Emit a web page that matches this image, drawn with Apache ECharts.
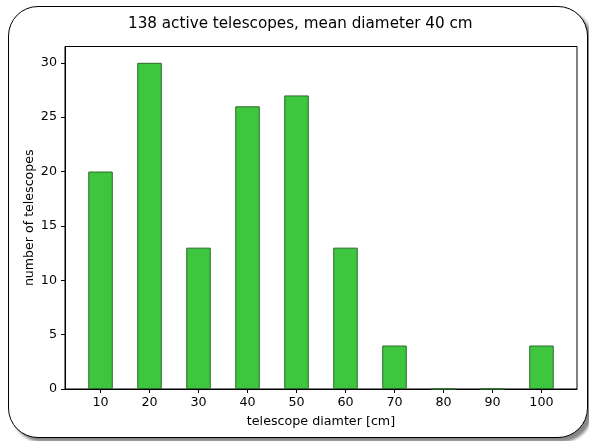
<!DOCTYPE html>
<html><head><meta charset="utf-8">
<script src="https://cdn.jsdelivr.net/npm/echarts@6/dist/echarts.min.js"></script>
<style>
html,body{margin:0;padding:0;background:#fff;}
#frame{position:absolute;left:8px;top:6px;width:578px;height:430px;border:1px solid #000;border-radius:30px;box-shadow:4px 4px 3px #888;background:#fff;}
#chart{position:absolute;left:0;top:0;width:589px;height:441px;}
</style></head>
<body>
<div id="frame"></div>
<div id="chart"></div>
<script>
const titleText = "138 active telescopes, mean diameter 40 cm";
const diameters = [10, 20, 30, 40, 50, 60, 70, 80, 90, 100];
const counts = [20, 30, 13, 26, 27, 13, 4, 0, 0, 4];
const xLabel = "telescope diamter [cm]";
const yLabel = "number of telescopes";

const chart = echarts.init(document.getElementById('chart'), null, {renderer:'canvas'});
const font = 'DejaVu Sans';
chart.setOption({
  backgroundColor: 'transparent',
  animation: false,
  title: {text: titleText, left: 123, top: 12, textStyle: {fontFamily: font, fontSize: 15.2, fontWeight: 'normal', color: '#000'}},
  grid: {left: 65, right: 12, top: 46.5, bottom: 52, show: true, borderColor: '#000', borderWidth: 1, outerBoundsMode: 'none', containLabel: false},
  xAxis: {
    type: 'value', min: 2.75, max: 107.25,
    name: xLabel, nameLocation: 'middle', nameGap: 26, nameMoveOverlap: false,
    nameTextStyle: {fontFamily: font, fontSize: 12.7, color: '#000'},
    axisLine: {show: true, lineStyle: {color: '#000'}},
    axisTick: {show: true, length: 4, inside: false, customValues: diameters, lineStyle: {color: '#000'}},
    axisLabel: {customValues: diameters, fontFamily: font, fontSize: 12.7, color: '#000', margin: 7},
    splitLine: {show: false}
  },
  yAxis: {
    type: 'value', min: 0, max: 31.5, interval: 5,
    name: yLabel, nameLocation: 'middle', nameGap: 29, nameRotate: 90, nameMoveOverlap: false,
    nameTextStyle: {fontFamily: font, fontSize: 12.6, color: '#000'},
    axisLine: {show: true, lineStyle: {color: '#000'}},
    axisTick: {show: true, length: 4, lineStyle: {color: '#000'}},
    axisLabel: {fontFamily: font, fontSize: 12.7, color: '#000', margin: 8, showMaxLabel: false},
    splitLine: {show: false}
  },
  series: [{
    type: 'bar',
    data: diameters.map((d, i) => [d, counts[i]]),
    barWidth: 24.5,
    itemStyle: {color: '#3ec63f', borderColor: '#2a6a2a', borderWidth: 1}
  }]
});
</script>
</body></html>
